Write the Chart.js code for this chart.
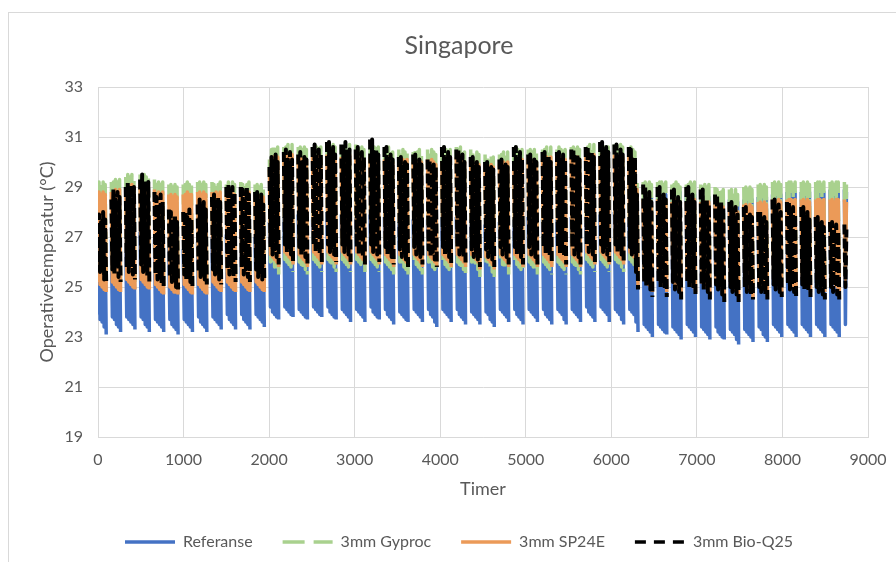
<!DOCTYPE html>
<html>
<head>
<meta charset="utf-8">
<script src="https://cdn.jsdelivr.net/npm/chart.js@4/dist/chart.umd.min.js"></script>
<style>
  html, body { margin: 0; padding: 0; background: #fff; overflow: hidden; }
  body { width: 896px; height: 562px; position: relative; }
  #box { position: absolute; left: 8px; top: 12px; width: 900px; height: 560px; border: 1px solid #d9d9d9; }
</style>
</head>
<body>
<div id="box"><canvas id="chart"></canvas></div>
<script>
const _ = null;

// one value every 12 hours, weekend hours left empty
// row = one week: Tue L/H, Wed L/H, Thu L/H, Fri L/H, Sat L/-, Sun -/-, Mon -/H
const referanse = [
  23.9,28.5, 23.7,27.0, 23.6,26.8, 23.4,26.6, 23.1,_,_,_, _,26.9,
  23.8,27.1, 23.7,26.9, 23.5,27.2, 23.4,26.8, 23.2,_,_,_, _,27.0,
  23.8,27.3, 23.7,27.0, 23.6,27.4, 23.5,27.1, 23.3,_,_,_, _,27.2,
  23.8,27.4, 23.7,27.2, 23.5,27.0, 23.4,27.3, 23.2,_,_,_, _,26.9,
  23.7,26.8, 23.6,26.6, 23.5,26.9, 23.4,26.5, 23.2,_,_,_, _,26.6,
  23.7,26.4, 23.5,26.6, 23.4,26.3, 23.3,26.5, 23.1,_,_,_, _,26.5,
  23.7,26.6, 23.6,26.4, 23.5,26.7, 23.4,26.5, 23.2,_,_,_, _,26.8,
  23.8,26.9, 23.6,26.7, 23.5,27.0, 23.4,26.8, 23.2,_,_,_, _,27.0,
  23.8,27.1, 23.7,26.9, 23.6,27.2, 23.5,27.0, 23.3,_,_,_, _,27.1,
  23.9,27.3, 23.7,27.1, 23.6,27.4, 23.5,27.2, 23.3,_,_,_, _,27.2,
  23.9,27.2, 23.7,27.0, 23.6,27.3, 23.5,27.1, 23.3,_,_,_, _,27.0,
  23.9,27.0, 23.8,26.9, 23.7,27.1, 23.6,26.8, 23.4,_,_,_, _,27.6,
  24.2,27.8, 24.0,27.6, 23.9,27.9, 23.8,27.7, 23.7,_,_,_, _,27.8,
  24.2,27.9, 24.1,27.7, 24.0,28.0, 23.9,27.8, 23.8,_,_,_, _,27.9,
  24.1,27.7, 24.0,27.9, 23.9,27.6, 23.8,27.8, 23.7,_,_,_, _,27.7,
  24.2,28.0, 24.1,27.8, 24.0,28.1, 23.9,27.9, 23.8,_,_,_, _,28.0,
  24.2,28.1, 24.0,27.9, 23.9,28.0, 23.8,27.8, 23.7,_,_,_, _,27.9,
  24.1,27.9, 24.0,28.0, 23.9,27.8, 23.8,27.9, 23.6,_,_,_, _,27.8,
  24.1,27.8, 24.0,27.7, 23.9,27.9, 23.8,27.6, 23.6,_,_,_, _,27.9,
  24.2,28.1, 24.0,27.9, 23.9,28.0, 23.8,27.8, 23.7,_,_,_, _,27.8,
  24.1,27.8, 23.9,27.6, 23.8,27.9, 23.7,27.7, 23.5,_,_,_, _,27.6,
  24.0,27.6, 23.9,27.5, 23.8,27.7, 23.7,27.5, 23.6,_,_,_, _,27.7,
  24.1,27.7, 24.0,27.6, 23.9,27.8, 23.8,27.5, 23.6,_,_,_, _,27.7,
  24.1,27.6, 23.9,27.7, 23.8,27.5, 23.6,27.6, 23.4,_,_,_, _,27.8,
  24.1,27.9, 24.0,27.7, 23.9,27.8, 23.8,27.6, 23.6,_,_,_, _,27.8,
  24.1,27.8, 23.9,27.6, 23.8,27.9, 23.7,27.7, 23.5,_,_,_, _,27.7,
  24.0,27.6, 23.9,27.5, 23.8,27.7, 23.7,27.4, 23.5,_,_,_, _,27.5,
  24.0,27.5, 23.9,27.4, 23.7,27.6, 23.6,27.4, 23.4,_,_,_, _,27.6,
  24.1,27.6, 24.0,27.5, 23.9,27.7, 23.8,27.5, 23.6,_,_,_, _,27.7,
  24.1,27.9, 23.9,27.7, 23.8,27.8, 23.7,27.6, 23.5,_,_,_, _,27.8,
  24.1,27.7, 24.0,27.6, 23.9,27.8, 23.8,27.5, 23.6,_,_,_, _,27.7,
  24.1,27.8, 23.9,27.6, 23.8,27.7, 23.7,27.6, 23.5,_,_,_, _,27.7,
  24.1,27.7, 24.0,27.8, 23.9,27.6, 23.7,27.7, 23.5,_,_,_, _,27.8,
  24.1,27.8, 24.0,27.6, 23.9,27.9, 23.8,27.7, 23.6,_,_,_, _,27.8,
  24.2,27.9, 24.0,27.7, 23.9,28.0, 23.8,27.8, 23.6,_,_,_, _,27.9,
  24.2,28.0, 24.1,27.8, 24.0,28.1, 23.9,27.9, 23.6,_,_,_, _,28.0,
  24.1,28.0, 24.0,27.9, 23.9,27.8, 23.7,27.9, 23.5,_,_,_, _,27.8,
  24.1,27.8, 24.0,27.7, 23.9,27.5, 23.6,26.8, 23.2,_,_,_, _,28.4,
  23.5,28.7, 23.4,28.5, 23.3,28.8, 23.2,28.6, 23.0,_,_,_, _,28.7,
  23.5,28.8, 23.4,28.6, 23.3,28.8, 23.2,28.7, 23.1,_,_,_, _,28.6,
  23.4,28.6, 23.3,28.7, 23.2,28.5, 23.1,28.8, 22.9,_,_,_, _,28.7,
  23.5,28.8, 23.4,28.6, 23.3,28.8, 23.2,28.7, 23.0,_,_,_, _,28.8,
  23.4,28.6, 23.3,28.5, 23.2,28.7, 23.1,28.6, 22.9,_,_,_, _,28.5,
  23.4,28.5, 23.2,28.6, 23.1,28.4, 23.0,28.6, 22.9,_,_,_, _,28.5,
  23.3,28.5, 23.2,28.3, 23.1,28.6, 22.9,28.4, 22.7,_,_,_, _,28.5,
  23.3,28.6, 23.2,28.4, 23.1,28.7, 23.0,28.5, 22.8,_,_,_, _,28.6,
  23.4,28.7, 23.3,28.5, 23.1,28.8, 23.0,28.6, 22.8,_,_,_, _,28.7,
  23.5,28.8, 23.4,28.6, 23.3,28.9, 23.2,28.7, 23.0,_,_,_, _,28.8,
  23.5,28.8, 23.4,28.7, 23.3,28.9, 23.2,28.8, 23.0,_,_,_, _,28.8,
  23.5,28.9, 23.4,28.7, 23.3,28.9, 23.2,28.8, 23.0,_,_,_, _,28.9,
  23.5,28.9, 23.4,28.8, 23.3,28.9, 23.2,28.8, 23.0,_,_,_, _,28.9,
  23.5,28.9, 23.4,28.8, 23.3,28.9, 23.2,28.8, 23.0,_,_,_, _,28.9,
  23.5,28.8
];

const gyproc = [
  25.6,29.2, 25.5,29.1, 25.4,29.2, 25.3,29.1, 25.1,_,_,_, _,29.2,
  25.6,29.2, 25.5,29.3, 25.4,29.2, 25.3,29.3, 25.1,_,_,_, _,29.4,
  25.7,29.5, 25.6,29.4, 25.5,29.5, 25.4,29.4, 25.2,_,_,_, _,29.5,
  25.7,29.4, 25.6,29.5, 25.5,29.4, 25.4,29.5, 25.2,_,_,_, _,29.3,
  25.5,29.1, 25.4,29.2, 25.3,29.1, 25.2,29.2, 25.0,_,_,_, _,29.1,
  25.4,29.1, 25.3,29.0, 25.2,29.1, 25.1,29.0, 24.9,_,_,_, _,29.1,
  25.5,29.1, 25.4,29.2, 25.3,29.1, 25.2,29.1, 25.0,_,_,_, _,29.2,
  25.5,29.2, 25.4,29.1, 25.3,29.2, 25.2,29.1, 25.0,_,_,_, _,29.2,
  25.6,29.1, 25.5,29.2, 25.4,29.1, 25.3,29.2, 25.1,_,_,_, _,29.1,
  25.6,29.2, 25.5,29.1, 25.4,29.2, 25.3,29.1, 25.1,_,_,_, _,29.2,
  25.6,29.1, 25.5,29.2, 25.4,29.1, 25.3,29.2, 25.1,_,_,_, _,29.1,
  25.6,29.1, 25.5,29.0, 25.4,29.1, 25.3,29.0, 25.2,_,_,_, _,30.1,
  26.0,30.5, 25.9,30.6, 25.8,30.5, 25.7,30.6, 25.5,_,_,_, _,30.6,
  26.1,30.6, 26.0,30.7, 25.9,30.6, 25.8,30.7, 25.6,_,_,_, _,30.6,
  26.0,30.6, 25.9,30.5, 25.8,30.6, 25.7,30.5, 25.5,_,_,_, _,30.6,
  26.1,30.7, 26.0,30.6, 25.9,30.7, 25.8,30.6, 25.6,_,_,_, _,30.7,
  26.1,30.7, 26.0,30.6, 25.9,30.7, 25.8,30.6, 25.6,_,_,_, _,30.6,
  26.1,30.6, 26.0,30.7, 25.9,30.6, 25.8,30.7, 25.6,_,_,_, _,30.7,
  26.1,30.6, 26.0,30.5, 25.9,30.6, 25.8,30.5, 25.6,_,_,_, _,30.6,
  26.1,30.7, 26.0,30.6, 25.9,30.7, 25.8,30.6, 25.6,_,_,_, _,30.5,
  26.0,30.5, 25.9,30.6, 25.8,30.5, 25.7,30.4, 25.5,_,_,_, _,30.5,
  26.0,30.4, 25.9,30.5, 25.8,30.4, 25.7,30.5, 25.5,_,_,_, _,30.4,
  26.0,30.5, 25.9,30.4, 25.8,30.5, 25.7,30.4, 25.5,_,_,_, _,30.5,
  26.0,30.4, 25.9,30.5, 25.8,30.4, 25.7,30.3, 25.5,_,_,_, _,30.4,
  26.0,30.6, 25.9,30.5, 25.8,30.6, 25.7,30.5, 25.5,_,_,_, _,30.6,
  26.0,30.5, 25.9,30.6, 25.8,30.5, 25.7,30.4, 25.5,_,_,_, _,30.5,
  26.0,30.4, 25.9,30.3, 25.8,30.4, 25.7,30.3, 25.4,_,_,_, _,30.3,
  25.9,30.3, 25.8,30.2, 25.7,30.3, 25.6,30.2, 25.4,_,_,_, _,30.3,
  26.0,30.3, 25.9,30.4, 25.8,30.3, 25.7,30.4, 25.5,_,_,_, _,30.4,
  26.0,30.6, 25.9,30.5, 25.8,30.6, 25.7,30.5, 25.5,_,_,_, _,30.5,
  26.0,30.5, 25.9,30.4, 25.8,30.5, 25.7,30.4, 25.5,_,_,_, _,30.5,
  26.0,30.5, 25.9,30.6, 25.8,30.5, 25.7,30.6, 25.5,_,_,_, _,30.5,
  26.0,30.6, 25.9,30.5, 25.8,30.6, 25.7,30.5, 25.5,_,_,_, _,30.6,
  26.0,30.6, 25.9,30.5, 25.8,30.6, 25.7,30.5, 25.5,_,_,_, _,30.6,
  26.1,30.6, 26.0,30.7, 25.9,30.6, 25.8,30.7, 25.6,_,_,_, _,30.6,
  26.1,30.7, 26.0,30.6, 25.9,30.7, 25.8,30.6, 25.6,_,_,_, _,30.7,
  26.1,30.7, 26.0,30.6, 25.9,30.7, 25.8,30.6, 25.6,_,_,_, _,30.6,
  26.1,30.6, 26.0,30.5, 25.9,30.4, 25.6,29.3, 25.2,_,_,_, _,29.2,
  25.5,29.2, 25.4,29.1, 25.3,29.2, 25.2,29.1, 25.0,_,_,_, _,29.2,
  25.5,29.2, 25.4,29.2, 25.3,29.1, 25.2,29.2, 25.0,_,_,_, _,29.1,
  25.4,29.1, 25.3,29.2, 25.2,29.1, 25.1,29.0, 24.9,_,_,_, _,29.1,
  25.5,29.1, 25.4,29.2, 25.3,29.1, 25.2,29.2, 25.0,_,_,_, _,29.1,
  25.4,29.0, 25.3,29.1, 25.2,29.0, 25.1,29.1, 24.9,_,_,_, _,29.0,
  25.4,28.9, 25.3,29.0, 25.2,28.8, 25.1,28.9, 24.8,_,_,_, _,28.9,
  25.3,28.9, 25.2,28.8, 25.1,28.9, 25.0,28.7, 24.8,_,_,_, _,29.0,
  25.3,29.0, 25.2,28.9, 25.1,29.0, 25.0,28.9, 24.8,_,_,_, _,29.1,
  25.4,29.1, 25.3,29.0, 25.2,29.1, 25.1,29.0, 24.9,_,_,_, _,29.2,
  25.5,29.2, 25.4,29.1, 25.3,29.2, 25.2,29.1, 25.0,_,_,_, _,29.2,
  25.5,29.2, 25.4,29.2, 25.3,29.1, 25.2,29.2, 25.0,_,_,_, _,29.2,
  25.5,29.2, 25.4,29.1, 25.3,29.2, 25.2,29.1, 25.0,_,_,_, _,29.2,
  25.5,29.2, 25.4,29.2, 25.3,29.1, 25.2,29.2, 25.0,_,_,_, _,29.2,
  25.5,29.2, 25.4,29.1, 25.3,29.2, 25.2,29.2, 25.0,_,_,_, _,29.2,
  25.5,29.1
];

const sp24e = [
  25.2,28.8, 25.1,28.7, 25.0,28.8, 24.9,28.7, 24.8,_,_,_, _,28.8,
  25.2,28.8, 25.1,28.9, 25.0,28.8, 24.9,28.9, 24.8,_,_,_, _,29.0,
  25.3,29.1, 25.2,29.0, 25.1,29.1, 25.0,29.0, 24.9,_,_,_, _,29.1,
  25.3,29.0, 25.2,29.1, 25.1,29.0, 25.0,29.1, 24.9,_,_,_, _,28.9,
  25.1,28.7, 25.0,28.8, 24.9,28.7, 24.8,28.8, 24.7,_,_,_, _,28.7,
  25.0,28.7, 24.9,28.6, 24.8,28.7, 24.8,28.6, 24.7,_,_,_, _,28.7,
  25.1,28.7, 25.0,28.8, 24.9,28.7, 24.8,28.7, 24.7,_,_,_, _,28.8,
  25.1,28.8, 25.0,28.7, 24.9,28.8, 24.8,28.7, 24.7,_,_,_, _,28.8,
  25.2,28.7, 25.1,28.8, 25.0,28.7, 24.9,28.8, 24.8,_,_,_, _,28.7,
  25.2,28.8, 25.1,28.7, 25.0,28.8, 24.9,28.7, 24.8,_,_,_, _,28.8,
  25.2,28.7, 25.1,28.8, 25.0,28.7, 24.9,28.8, 24.8,_,_,_, _,28.7,
  25.2,28.7, 25.1,28.6, 25.0,28.7, 24.9,28.6, 24.8,_,_,_, _,29.7,
  26.3,30.1, 26.2,30.2, 26.1,30.1, 26.0,30.2, 25.8,_,_,_, _,30.2,
  26.4,30.2, 26.3,30.3, 26.2,30.2, 26.1,30.3, 25.9,_,_,_, _,30.2,
  26.3,30.2, 26.2,30.1, 26.1,30.2, 26.0,30.1, 25.8,_,_,_, _,30.2,
  26.4,30.3, 26.3,30.2, 26.2,30.3, 26.1,30.2, 25.9,_,_,_, _,30.3,
  26.4,30.3, 26.3,30.2, 26.2,30.3, 26.1,30.2, 25.9,_,_,_, _,30.2,
  26.4,30.2, 26.3,30.3, 26.2,30.2, 26.1,30.3, 25.9,_,_,_, _,30.3,
  26.4,30.2, 26.3,30.1, 26.2,30.2, 26.1,30.1, 25.9,_,_,_, _,30.2,
  26.4,30.3, 26.3,30.2, 26.2,30.3, 26.1,30.2, 25.9,_,_,_, _,30.1,
  26.3,30.1, 26.2,30.2, 26.1,30.1, 26.0,30.0, 25.8,_,_,_, _,30.1,
  26.3,30.0, 26.2,30.1, 26.1,30.0, 26.0,30.1, 25.8,_,_,_, _,30.0,
  26.3,30.1, 26.2,30.0, 26.1,30.1, 26.0,30.0, 25.8,_,_,_, _,30.1,
  26.3,30.0, 26.2,30.1, 26.1,30.0, 26.0,29.9, 25.8,_,_,_, _,30.0,
  26.3,30.2, 26.2,30.1, 26.1,30.2, 26.0,30.1, 25.8,_,_,_, _,30.2,
  26.3,30.1, 26.2,30.2, 26.1,30.1, 26.0,30.0, 25.8,_,_,_, _,30.1,
  26.3,30.0, 26.2,29.9, 26.1,30.0, 26.0,29.9, 25.7,_,_,_, _,29.9,
  26.2,29.9, 26.1,29.8, 26.0,29.9, 25.9,29.8, 25.7,_,_,_, _,29.9,
  26.3,29.9, 26.2,30.0, 26.1,29.9, 26.0,30.0, 25.8,_,_,_, _,30.0,
  26.3,30.2, 26.2,30.1, 26.1,30.2, 26.0,30.1, 25.8,_,_,_, _,30.1,
  26.3,30.1, 26.2,30.0, 26.1,30.1, 26.0,30.0, 25.8,_,_,_, _,30.1,
  26.3,30.1, 26.2,30.2, 26.1,30.1, 26.0,30.2, 25.8,_,_,_, _,30.1,
  26.3,30.2, 26.2,30.1, 26.1,30.2, 26.0,30.1, 25.8,_,_,_, _,30.2,
  26.3,30.2, 26.2,30.1, 26.1,30.2, 26.0,30.1, 25.8,_,_,_, _,30.2,
  26.4,30.2, 26.3,30.3, 26.2,30.2, 26.1,30.3, 25.9,_,_,_, _,30.2,
  26.4,30.3, 26.3,30.2, 26.2,30.3, 26.1,30.2, 25.9,_,_,_, _,30.3,
  26.4,30.3, 26.3,30.2, 26.2,30.3, 26.1,30.2, 25.9,_,_,_, _,30.2,
  26.4,30.2, 26.3,30.1, 26.2,30.0, 25.7,28.9, 25.0,_,_,_, _,28.5,
  25.3,28.5, 25.2,28.4, 25.1,28.5, 25.0,28.4, 24.8,_,_,_, _,28.5,
  25.3,28.5, 25.2,28.5, 25.1,28.4, 25.0,28.5, 24.8,_,_,_, _,28.4,
  25.2,28.4, 25.1,28.5, 25.0,28.4, 24.9,28.3, 24.7,_,_,_, _,28.4,
  25.3,28.4, 25.2,28.5, 25.1,28.4, 25.0,28.5, 24.8,_,_,_, _,28.4,
  25.2,28.3, 25.1,28.4, 25.0,28.3, 24.9,28.4, 24.7,_,_,_, _,28.3,
  25.2,28.2, 25.1,28.3, 25.0,28.1, 24.9,28.2, 24.6,_,_,_, _,28.2,
  25.1,28.2, 25.0,28.1, 24.9,28.2, 24.8,28.0, 24.6,_,_,_, _,28.3,
  25.1,28.3, 25.0,28.2, 24.9,28.3, 24.8,28.2, 24.6,_,_,_, _,28.4,
  25.2,28.4, 25.1,28.3, 25.0,28.4, 24.9,28.3, 24.7,_,_,_, _,28.5,
  25.3,28.5, 25.2,28.4, 25.1,28.5, 25.0,28.4, 24.8,_,_,_, _,28.5,
  25.3,28.5, 25.2,28.5, 25.1,28.4, 25.0,28.5, 24.8,_,_,_, _,28.5,
  25.3,28.5, 25.2,28.4, 25.1,28.5, 25.0,28.4, 24.8,_,_,_, _,28.5,
  25.3,28.5, 25.2,28.5, 25.1,28.4, 25.0,28.5, 24.8,_,_,_, _,28.5,
  25.3,28.5, 25.2,28.4, 25.1,28.5, 25.0,28.5, 24.8,_,_,_, _,28.5,
  25.3,28.4
];

const bioQ25 = [
  26.0,27.9, 25.6,27.6, 25.8,28.0, 25.3,27.7, 25.1,_,_,_, _,28.5,
  25.7,28.9, 25.5,28.5, 25.8,28.8, 25.4,28.6, 25.2,_,_,_, _,29.0,
  25.8,29.2, 25.6,28.8, 25.9,29.1, 25.5,29.0, 25.3,_,_,_, _,29.3,
  25.9,29.5, 25.6,29.1, 25.8,29.3, 25.4,29.2, 25.2,_,_,_, _,28.8,
  25.5,28.6, 25.3,28.2, 25.4,28.7, 25.1,28.4, 24.9,_,_,_, _,28.1,
  25.4,28.0, 25.2,27.7, 25.3,27.9, 25.0,27.6, 24.9,_,_,_, _,28.0,
  25.5,28.0, 25.3,27.8, 25.4,28.1, 25.2,27.7, 25.0,_,_,_, _,28.3,
  25.6,28.5, 25.4,28.2, 25.5,28.4, 25.3,28.1, 25.1,_,_,_, _,28.6,
  25.7,28.7, 25.5,28.4, 25.6,28.6, 25.3,28.4, 25.1,_,_,_, _,29.0,
  25.7,29.1, 25.5,28.8, 25.8,29.0, 25.4,28.8, 25.2,_,_,_, _,29.0,
  25.8,28.9, 25.5,28.6, 25.7,29.0, 25.4,28.7, 25.2,_,_,_, _,28.8,
  25.7,28.8, 25.4,28.4, 25.6,28.7, 25.3,28.3, 25.2,_,_,_, _,29.8,
  26.6,30.2, 26.3,29.8, 26.5,30.3, 26.2,30.0, 25.9,_,_,_, _,30.4,
  26.7,30.5, 26.4,30.1, 26.6,30.4, 26.3,30.1, 26.0,_,_,_, _,30.3,
  26.6,30.4, 26.3,30.0, 26.5,30.2, 26.2,30.1, 25.9,_,_,_, _,30.6,
  26.7,30.7, 26.4,30.3, 26.6,30.5, 26.3,30.3, 26.0,_,_,_, _,30.8,
  26.7,30.8, 26.4,30.4, 26.6,30.6, 26.3,30.3, 26.0,_,_,_, _,30.7,
  26.7,30.6, 26.4,30.8, 26.6,30.4, 26.3,30.5, 26.0,_,_,_, _,30.5,
  26.6,30.6, 26.3,30.2, 26.5,30.4, 26.2,30.2, 25.9,_,_,_, _,30.9,
  26.7,30.9, 26.4,30.4, 26.6,30.5, 26.3,30.3, 26.0,_,_,_, _,30.6,
  26.6,30.6, 26.3,30.2, 26.5,30.3, 26.2,30.1, 25.9,_,_,_, _,30.2,
  26.5,30.2, 26.2,29.9, 26.4,30.0, 26.1,29.9, 25.8,_,_,_, _,30.3,
  26.6,30.3, 26.3,30.0, 26.5,30.1, 26.2,29.9, 25.9,_,_,_, _,30.1,
  26.5,30.1, 26.2,29.8, 26.4,29.9, 26.1,29.8, 25.8,_,_,_, _,30.6,
  26.6,30.6, 26.3,30.2, 26.5,30.4, 26.2,30.2, 25.9,_,_,_, _,30.5,
  26.6,30.5, 26.3,30.1, 26.5,30.3, 26.2,30.0, 25.9,_,_,_, _,30.2,
  26.5,30.2, 26.2,29.9, 26.4,30.0, 26.1,29.8, 25.8,_,_,_, _,30.0,
  26.5,30.0, 26.2,29.7, 26.4,29.8, 26.1,29.7, 25.8,_,_,_, _,30.1,
  26.6,30.1, 26.3,29.8, 26.5,29.9, 26.2,29.8, 25.9,_,_,_, _,30.6,
  26.6,30.6, 26.3,30.2, 26.5,30.4, 26.2,30.1, 25.9,_,_,_, _,30.3,
  26.6,30.3, 26.3,30.0, 26.5,30.1, 26.2,30.0, 25.9,_,_,_, _,30.4,
  26.6,30.4, 26.3,30.1, 26.5,30.2, 26.2,30.0, 25.9,_,_,_, _,30.4,
  26.6,30.4, 26.3,30.0, 26.5,30.3, 26.2,30.1, 25.9,_,_,_, _,30.5,
  26.6,30.5, 26.3,30.2, 26.5,30.3, 26.2,30.1, 25.9,_,_,_, _,30.6,
  26.7,30.6, 26.4,30.3, 26.6,30.4, 26.3,30.2, 26.0,_,_,_, _,30.8,
  26.7,30.8, 26.4,30.4, 26.6,30.6, 26.3,30.4, 26.0,_,_,_, _,30.7,
  26.7,30.7, 26.4,30.3, 26.6,30.5, 26.3,30.3, 26.0,_,_,_, _,30.6,
  26.6,30.5, 26.3,30.1, 26.4,30.2, 25.6,28.7, 24.9,_,_,_, _,29.1,
  25.2,29.0, 25.0,28.5, 25.3,28.8, 24.9,28.4, 24.6,_,_,_, _,29.0,
  25.2,29.0, 25.0,28.5, 25.2,28.7, 24.9,28.5, 24.6,_,_,_, _,28.9,
  25.2,28.9, 24.9,28.4, 25.2,28.6, 24.8,28.4, 24.5,_,_,_, _,29.0,
  25.2,29.0, 25.0,28.5, 25.2,28.7, 24.9,28.4, 24.6,_,_,_, _,28.9,
  25.1,28.9, 24.9,28.4, 25.1,28.5, 24.8,28.3, 24.5,_,_,_, _,28.7,
  25.1,28.7, 24.9,28.2, 25.1,28.4, 24.7,28.2, 24.4,_,_,_, _,28.4,
  25.0,28.4, 24.8,28.0, 25.0,28.2, 24.7,27.9, 24.4,_,_,_, _,28.2,
  25.0,28.2, 24.8,27.8, 25.0,27.9, 24.7,27.8, 24.5,_,_,_, _,28.0,
  25.0,28.0, 24.8,27.7, 25.0,27.8, 24.7,27.6, 24.5,_,_,_, _,28.5,
  25.1,28.5, 24.9,28.1, 25.1,28.3, 24.8,28.0, 24.6,_,_,_, _,28.4,
  25.1,28.4, 24.9,28.0, 25.1,28.2, 24.8,27.9, 24.6,_,_,_, _,28.2,
  25.1,28.2, 24.9,27.8, 25.1,28.0, 24.8,27.7, 24.6,_,_,_, _,27.8,
  25.0,27.8, 24.8,27.5, 25.0,27.6, 24.7,27.4, 24.5,_,_,_, _,27.6,
  25.0,27.6, 24.8,27.3, 25.0,27.5, 24.7,27.2, 24.5,_,_,_, _,27.5,
  25.0,27.3
];

const hours = referanse.map((v, i) => i * 12);

const labels = ['Referanse', '3mm Gyproc', '3mm SP24E', '3mm Bio-Q25'];
const colors = ['#4472C4', '#A9D18E', '#EB9A58', '#000000'];

const xTicks = { min: 0, max: 9000, step: 1000 };
const yTicks = { min: 19, max: 33, step: 2 };

const textColor = '#595959';
const gridColor = '#d9d9d9';

const plotWidth  = [3.5, 3.5, 3.5, 4];
const plotDash   = [[], [20, 8], [], [10, 4]];
const legendDash = [[], [22, 9], [], [11, 8]];

Chart.defaults.font.family = 'Lato';
Chart.defaults.color = textColor;

function series(values) {
    return hours.map((h, i) => ({ x: h, y: values[i] }));
}

const ctx = document.getElementById('chart');

new Chart(ctx, {
    type: 'line',
    data: {
        datasets: [referanse, gyproc, sp24e, bioQ25].map((values, i) => ({
            label: labels[i],
            data: series(values),
            borderColor: colors[i],
            borderWidth: plotWidth[i],
            borderDash: plotDash[i],
            order: 4 - i
        }))
    },
    options: {
        animation: false,
        responsive: true,
        maintainAspectRatio: false,
        parsing: false,
        elements: {
            point: { radius: 0, hoverRadius: 0 },
            line: { tension: 0, borderJoinStyle: 'round', borderCapStyle: 'butt', fill: false }
        },
        layout: { padding: { left: 0, right: 0, top: 0, bottom: 13 } },
        plugins: {
            tooltip: { enabled: false },
            title: {
                display: true,
                text: 'Singapore',
                color: textColor,
                font: { size: 25, weight: 'normal' },
                padding: { top: 18, bottom: 26 }
            },
            legend: {
                position: 'bottom',
                labels: {
                    usePointStyle: true,
                    pointStyle: 'line',
                    pointStyleWidth: 50,
                    padding: 30,
                    color: textColor,
                    font: { size: 16 },
                    generateLabels: (chart) => chart.data.datasets.map((ds, i) => ({
                        text: ds.label,
                        fillStyle: colors[i],
                        strokeStyle: colors[i],
                        fontColor: textColor,
                        lineWidth: 3.5,
                        lineDash: legendDash[i],
                        lineCap: 'butt',
                        pointStyle: 'line',
                        hidden: false,
                        datasetIndex: i
                    }))
                }
            }
        },
        scales: {
            x: {
                type: 'linear',
                min: xTicks.min,
                max: xTicks.max,
                ticks: { stepSize: xTicks.step, autoSkip: false, maxRotation: 0, padding: 13, font: { size: 16 }, color: textColor, callback: (v) => String(v) },
                grid: { color: gridColor, drawTicks: false },
                border: { color: gridColor },
                title: { display: true, text: 'Timer', color: textColor, font: { size: 18 }, padding: { top: 0, bottom: 4 } },
                afterFit: (s) => { s.height = 67; }
            },
            y: {
                min: yTicks.min,
                max: yTicks.max,
                ticks: { stepSize: yTicks.step, padding: 15, font: { size: 16 }, color: textColor, callback: (v) => String(v) },
                grid: { color: gridColor, drawTicks: false },
                border: { color: gridColor },
                title: { display: true, text: 'Operativetemperatur (°C)', color: textColor, font: { size: 18 }, padding: { top: 27, bottom: 0 } },
                afterFit: (s) => { s.width = 89; }
            },
            yRight: {
                position: 'right',
                display: true,
                grid: { display: false },
                border: { display: false },
                ticks: { display: false },
                afterFit: (s) => { s.width = 41; }
            }
        }
    }
});
</script>
</body>
</html>
